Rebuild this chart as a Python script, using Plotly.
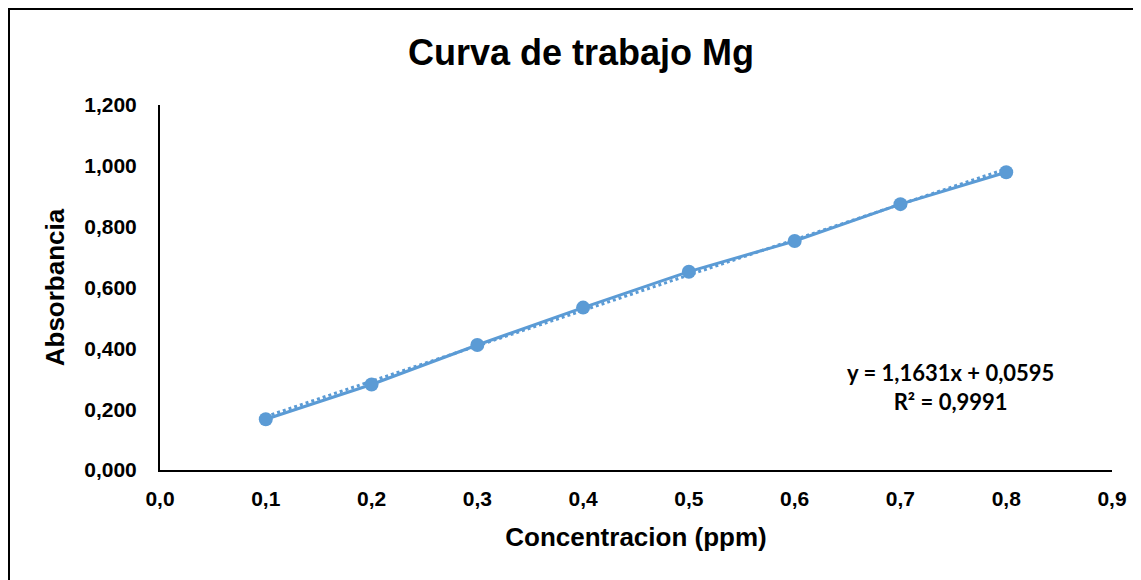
import plotly.graph_objects as go

# Data
concentracion = [0.1, 0.2, 0.3, 0.4, 0.5, 0.6, 0.7, 0.8]
absorbancia = [0.167, 0.281, 0.411, 0.534, 0.652, 0.753, 0.874, 0.979]
slope = 1.1631
intercept = 0.0595
r2_text = "R² = 0,9991"
eq_text = "y = 1,1631x + 0,0595"

x_ticks = [0.0, 0.1, 0.2, 0.3, 0.4, 0.5, 0.6, 0.7, 0.8, 0.9]
y_ticks = [0.0, 0.2, 0.4, 0.6, 0.8, 1.0, 1.2]

BLUE = "#5B9BD5"
OFF = 8  # page body margin
W, H = 1141 - OFF, 580 - OFF
# plot area in page coordinates: x 160..1112, y 105..470
PX0, PX1, PY0, PY1 = 160, 1112, 105, 470
L, R, T, B = PX0 - OFF, W - (PX1 - OFF), PY0 - OFF, H - (PY1 - OFF)

trend_x = [concentracion[0], concentracion[-1]]
trend_y = [slope * v + intercept for v in trend_x]

fig = go.Figure()
fig.add_trace(go.Scatter(
    x=trend_x, y=trend_y, mode="lines",
    line=dict(color=BLUE, width=3, dash="dot"),
    hoverinfo="skip", showlegend=False,
))
fig.add_trace(go.Scatter(
    x=concentracion, y=absorbancia, mode="lines+markers",
    line=dict(color=BLUE, width=3),
    marker=dict(color=BLUE, size=14),
    showlegend=False,
))

FAM = "Liberation Sans, Arial, sans-serif"
axis_font = dict(family=FAM, size=21, color="#000000", weight="bold")
title_font = dict(family=FAM, size=26, color="#000000", weight="bold")
fig.update_layout(
    width=W, height=H,
    margin=dict(l=L, r=R, t=T, b=B, pad=0),
    paper_bgcolor="white", plot_bgcolor="white",
    separators=",.",
    title=dict(
        text="Curva de trabajo Mg",
        font=dict(family=FAM, size=36, color="#000000", weight="bold"),
        x=(581 - OFF) / W, xref="container", xanchor="center",
        y=1 - (52 - OFF) / H, yref="container", yanchor="middle",
    ),
    xaxis=dict(
        range=[0, 0.9], tickvals=x_ticks, tickformat=".1f",
        showgrid=False, zeroline=False, showline=True, linecolor="#000000", linewidth=2,
        ticks="", tickfont=axis_font, ticklabelstandoff=9,
        title=dict(text="Concentracion (ppm)", standoff=19, font=title_font),
    ),
    yaxis=dict(
        range=[0, 1.2], tickvals=y_ticks, tickformat=".3f",
        showgrid=False, zeroline=False, showline=True, linecolor="#000000", linewidth=2,
        ticks="", tickfont=axis_font, ticklabelstandoff=17,
        title=dict(text="Absorbancia", standoff=12, font=title_font),
    ),
)

fig.add_annotation(
    x=(950 - PX0) / (PX1 - PX0), y=(PY1 - 387) / (PY1 - PY0),
    xref="paper", yref="paper", showarrow=False,
    text=eq_text + "<br>" + r2_text,
    font=dict(family="Lato, Open Sans, sans-serif", size=22, color="#000000", weight="bold"),
    align="center", xanchor="center", yanchor="middle",
)

# outer chart border (left and top visible, rest off-canvas)
pw, ph = PX1 - PX0, PY1 - PY0
fig.add_shape(
    type="rect", xref="paper", yref="paper",
    x0=(9 - PX0) / pw, x1=(1160 - PX0) / pw,
    y0=(PY1 - 600) / ph, y1=(PY1 - 9) / ph,
    line=dict(color="#000000", width=2), fillcolor="rgba(0,0,0,0)", layer="below",
)

fig.write_html("out.html")
